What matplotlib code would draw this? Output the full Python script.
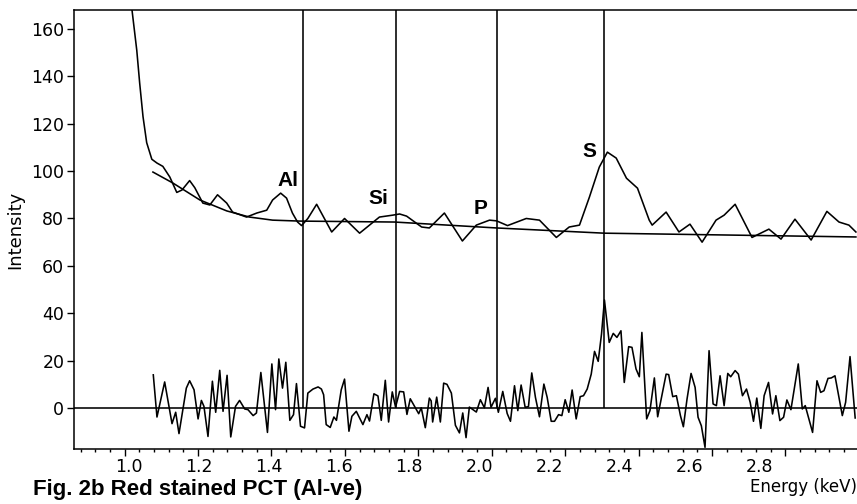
#!/usr/bin/env python3
"""EDX spectrum of red stained PCT (Al-ve): smoothed spectrum, background fit and residual."""

import matplotlib
matplotlib.use("Agg")
import matplotlib.pyplot as plt
from matplotlib.ticker import MultipleLocator, FixedLocator

plt.rcParams['font.family'] = ['Liberation Sans', 'DejaVu Sans']

# smoothed spectrum (keV, counts)
spec_e = [1.020, 1.033, 1.041, 1.050, 1.060, 1.074, 1.088, 1.104, 1.123, 1.142,
          1.156, 1.177, 1.191, 1.213, 1.232, 1.253, 1.278, 1.294, 1.332, 1.360,
          1.387, 1.403, 1.425, 1.441, 1.457, 1.471, 1.482, 1.499, 1.523, 1.564,
          1.599, 1.640, 1.694, 1.730, 1.749, 1.768, 1.809, 1.830, 1.871, 1.920,
          1.958, 1.994, 2.013, 2.043, 2.094, 2.130, 2.176, 2.211, 2.239, 2.266,
          2.293, 2.315, 2.339, 2.367, 2.397, 2.429, 2.437, 2.475, 2.510, 2.540,
          2.573, 2.611, 2.633, 2.663, 2.709, 2.755, 2.788, 2.826, 2.870, 2.913,
          2.946, 2.973, 2.992]
spec_i = [168, 151, 137, 123, 112, 105, 103.4, 102, 97.5, 91,
          92, 96, 93, 86.5, 85.7, 90, 86.5, 82.7, 80.6, 82.3,
          83.5, 87.8, 90.7, 88.6, 82.3, 78.5, 77, 80, 86, 74.3,
          80, 73.8, 80.6, 81.4, 81.9, 81, 76.4, 76, 82.3, 70.5,
          77.2, 79.3, 79, 77, 80, 79.3, 72, 76.4, 77.2, 89,
          101.7, 108, 105.5, 97, 92.8, 79.3, 77.2, 82.7, 74.3, 77.6,
          70, 79.3, 81.4, 86, 72, 75.5, 71.3, 79.7, 70.9, 83,
          78.5, 77.2, 74.3]

# background fit
bg_e = [1.077, 1.131, 1.205, 1.278, 1.340, 1.403, 1.477, 1.735, 2.013, 2.306, 2.992]
bg_i = [99.6, 95, 87.8, 83.2, 80.6, 79.3, 78.9, 78.5, 76, 73.8, 72.2]

# residual (spectrum minus background)
res_e = [1.078, 1.088, 1.109, 1.129, 1.139, 1.148, 1.168, 1.177, 1.189, 1.200,
         1.209, 1.216, 1.227, 1.239, 1.248, 1.259, 1.268, 1.279, 1.289, 1.302,
         1.313, 1.327, 1.336, 1.350, 1.359, 1.371, 1.389, 1.401, 1.411, 1.420,
         1.430, 1.439, 1.450, 1.460, 1.468, 1.479, 1.490, 1.499, 1.513, 1.527,
         1.536, 1.542, 1.549, 1.560, 1.570, 1.577, 1.590, 1.599, 1.611, 1.619,
         1.631, 1.649, 1.660, 1.667, 1.679, 1.690, 1.699, 1.710, 1.719, 1.729,
         1.738, 1.749, 1.760, 1.769, 1.778, 1.792, 1.801, 1.808, 1.819, 1.830,
         1.835, 1.839, 1.850, 1.860, 1.869, 1.878, 1.890, 1.901, 1.912, 1.921,
         1.930, 1.939, 1.958, 1.969, 1.980, 1.990, 1.998, 2.010, 2.018, 2.030,
         2.042, 2.051, 2.062, 2.071, 2.080, 2.091, 2.100, 2.109, 2.119, 2.130,
         2.142, 2.151, 2.162, 2.171, 2.182, 2.191, 2.200, 2.210, 2.219, 2.230,
         2.241, 2.250, 2.260, 2.271, 2.280, 2.290, 2.299, 2.307, 2.320, 2.331,
         2.341, 2.352, 2.361, 2.373, 2.382, 2.393, 2.402, 2.409, 2.422, 2.431,
         2.443, 2.452, 2.475, 2.482, 2.493, 2.503, 2.514, 2.522, 2.532, 2.543,
         2.554, 2.562, 2.571, 2.581, 2.592, 2.603, 2.612, 2.622, 2.633, 2.643,
         2.651, 2.663, 2.672, 2.683, 2.694, 2.704, 2.713, 2.722, 2.733, 2.742,
         2.754, 2.765, 2.774, 2.785, 2.795, 2.804, 2.815, 2.835, 2.846, 2.854,
         2.874, 2.886, 2.896, 2.905, 2.916, 2.925, 2.935, 2.955, 2.964, 2.976,
         2.990]
res_i = [14, -3.8, 11, -6.6, -1.8, -10.8, 8.4, 11.5, 7.7, -4.6,
         3.2, 0.7, -12, 11.3, -1.8, 15.9, -1.4, 13.8, -12.2, 0.7,
         3.2, -0.4, -0.7, -3.2, -2.1, 15, -10.3, 18.6, -0.7, 20.7,
         8.4, 19.3, -5.2, -2.8, 10.3, -7.7, -8.4, 6.3, 8, 8.9,
         8, 5.6, -7, -8.2, -3.8, -5.2, 7.7, 12.2, -9.8, -3.5,
         -1.4, -7, -2.8, -5.5, 6, 5.1, -5.2, 11.7, -5.9, 6.8,
         0.4, 7, 6.8, -2.7, 3.9, 0.1, -2.4, 0.1, -8.3, 4.2,
         3, -5.9, 4.6, -5.9, 10.5, 10, 6.3, -7.3, -10.5, -2.1,
         -12.5, 0.4, -1.7, 3.5, 0.1, 8.7, 0.3, 4.1, -1.8, 7,
         -2.3, -5.6, 9.4, -1.1, 9.7, 0.3, 0.6, 14.8, 4.5, -3.7,
         10.1, 4.5, -5.6, -5.6, -2.8, -3.2, 3.5, -1.8, 7.6, -4.6,
         4.8, 5.2, 8, 14.3, 23.9, 19.7, 31.2, 45.6, 27.7, 31.5,
         29.8, 32.6, 10.8, 25.9, 25.6, 16.5, 13.2, 31.9, -4.6, -1.1,
         12.7, -3.7, 14.3, 14.1, 4.8, 5.2, -3.2, -7.9, 3.8, 14.6,
         8.7, -3.9, -7.5, -16.6, 24.2, 1.7, 1, 13.6, 1, 14.6,
         13.2, 15.8, 14.3, 5.2, 8, 2.4, -5.6, 4.2, -8.6, 5.2,
         10.8, -2.5, 5.2, -5.3, -3.9, 3.4, -0.7, 18.6, -0.4, 1,
         -10.3, 11.5, 6.6, 7.3, 12.5, 12.7, 13.6, -3.2, 2.4, 21.7,
         -4.2]

# element markers
elements = ['Al', 'Si', 'P', 'S']
line_e = [1.486, 1.740, 2.013, 2.307]
label_e = [1.445, 1.692, 1.970, 2.267]
label_i = [96, 88.6, 84.4, 108.4]

# printed energy labels (drift slightly against the tick marks in the scan)
xtick_labels = [1.0, 1.2, 1.4, 1.6, 1.8, 2.0, 2.2, 2.4, 2.6, 2.8]
label_scale = 0.9551
label_shift = 0.0555

fig = plt.figure(figsize=(8.57, 5.04), dpi=100)
ax = fig.add_axes([74 / 857, 55 / 504, 1 - 74 / 857, 439 / 504])

lw = 1.15
ax.plot(spec_e, spec_i, color='black', lw=lw, solid_joinstyle='round')
ax.plot(bg_e, bg_i, color='black', lw=lw)
ax.plot(res_e, res_i, color='black', lw=lw)
ax.axhline(0, color='black', lw=lw)
ax.vlines(line_e, 0, 168, color='black', lw=lw)

for name, x, y in zip(elements, label_e, label_i):
    ax.text(x, y, name, fontsize=15, fontweight='bold', ha='center', va='center')

ax.set_xlim(0.862, 2.995)
ax.set_ylim(-17.3, 168)
ax.xaxis.set_major_locator(MultipleLocator(0.2))
ax.xaxis.set_minor_locator(MultipleLocator(0.04))
ax.yaxis.set_major_locator(MultipleLocator(20))
ax.tick_params(axis='x', which='major', length=5, width=1, labelbottom=False)
ax.tick_params(axis='x', which='minor', length=2.5, width=1)
ax.tick_params(axis='y', length=5, width=1, pad=2)
for lab in ax.get_yticklabels():
    lab.set_fontfamily('DejaVu Sans')
    lab.set_fontsize(12.5)
ax.spines['right'].set_visible(False)
for s in ['left', 'top', 'bottom']:
    ax.spines[s].set_linewidth(1.1)

sec = ax.secondary_xaxis(
    'bottom',
    functions=(lambda e: (e - label_shift) / label_scale,
               lambda v: label_shift + label_scale * v))
sec.xaxis.set_major_locator(FixedLocator(xtick_labels))
sec.xaxis.set_major_formatter(plt.FuncFormatter(lambda v, p: f"{v:.1f}"))
sec.tick_params(axis='x', length=0, pad=6.5)
sec.spines['bottom'].set_visible(False)
for lab in sec.get_xticklabels():
    lab.set_fontfamily('DejaVu Sans')
    lab.set_fontsize(12.5)

ax.set_ylabel('Intensity', fontsize=13, family='DejaVu Sans')
ax.yaxis.set_label_coords(-0.064, 0.5)

fig.text(33 / 857, 1 - 490 / 504, 'Fig. 2b Red stained PCT (Al-ve)',
         fontsize=16, fontweight='bold', ha='left', va='center')
fig.text(1.0, 1 - 478 / 504, 'Energy (keV)', fontsize=12,
         family='DejaVu Sans', ha='right', va='top')

fig.savefig('out.png', dpi=100)
